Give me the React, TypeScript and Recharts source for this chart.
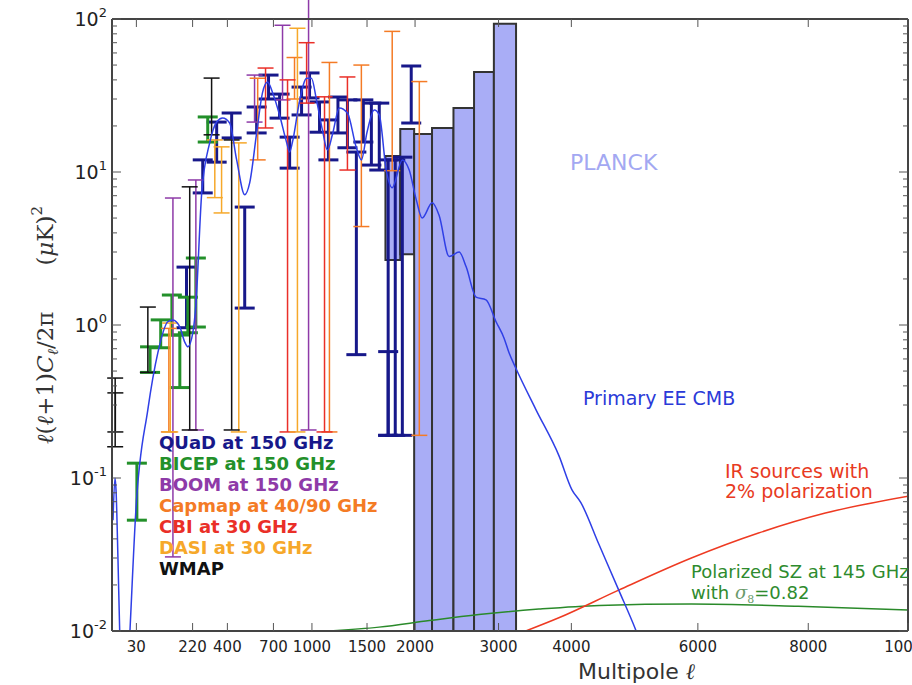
import React from "react";
import {
  ComposedChart,
  XAxis,
  YAxis,
  Line,
  Scatter,
  ErrorBar,
  ReferenceArea,
} from "recharts";

const W = 912;
const H = 685;
const POW = 0.6; // x axis is drawn in ell^0.6
const toU = (l: number) => Math.pow(l, POW);

const xTickLabels = [30, 220, 400, 700, 1000, 1500, 2000, 3000, 4000, 6000, 8000, 10000];
const yDecades = [-2, -1, 0, 1, 2];

// theory curve, [ell, l(l+1)C/2pi]
const primaryEE = [
  [0.15, 0.053], [0.9, 0.1], [1.5, 0.083], [2.9, 0.029], [4.6, 0.0087], [8, 0.003],
  [12, 0.003], [18, 0.01], [29, 0.062], [57, 0.28], [86, 0.66], [119, 1.05],
  [138, 1.08], [165, 0.97], [186, 0.77], [199, 0.72], [221, 0.89], [235, 1.35],
  [263, 7.3], [303, 15.5], [340, 21.2], [373, 22.5], [413, 20.9], [455, 12.0],
  [505, 7.1], [537, 8.5], [583, 18], [623, 33], [658, 38.7], [694, 33],
  [745, 23.6], [797, 15.7], [821, 13.5], [843, 15.7], [898, 28.7], [956, 41],
  [996, 41], [1038, 29.6], [1089, 18.8], [1133, 13.9], [1176, 17.5], [1239, 26.2],
  [1313, 24.3], [1397, 14.4], [1445, 12.0], [1500, 18.2], [1572, 25.4], [1622, 23.6],
  [1693, 10.3], [1755, 7.9], [1862, 12.0], [1936, 10.3], [2013, 6.6], [2079, 5.0],
  [2192, 6.3], [2272, 5.2], [2389, 2.8], [2508, 3.0], [2593, 2.4], [2715, 1.52],
  [2840, 1.46], [2968, 1.05], [3072, 0.82], [3136, 0.66], [3229, 0.52], [3499, 0.28],
  [3821, 0.14], [4007, 0.084], [4139, 0.069], [4406, 0.037], [4711, 0.0185],
  [4976, 0.0102], [5103, 0.0075],
];

const irSources = [
  [3360, 0.01], [3820, 0.0122], [4710, 0.0185], [5890, 0.03], [7070, 0.0437],
  [8330, 0.059], [10000, 0.076],
];

const polarizedSZ = [
  [1150, 0.01], [1620, 0.0106], [2160, 0.0117], [2750, 0.0128], [3540, 0.0139],
  [4410, 0.0147], [5890, 0.015], [7810, 0.0145], [10000, 0.0137],
];

// PLANCK forecast bins [ellMin, ellMax, low, high]
const planck = [
  [1685, 1840, 2.66, 12.7],
  [1840, 1990, 2.9, 19.1],
  [1990, 2190, 0.01, 17.7],
  [2190, 2440, 0.01, 19.4],
  [2440, 2690, 0.01, 26.2],
  [2690, 2940, 0.01, 45],
  [2940, 3230, 0.01, 93],
];

// band powers [ell, low, high]
const quad = [
  [193, 0.96, 2.39], [268, 7.3, 12.0], [340, 11.6, 21.2], [425, 16.7, 24.3],
  [505, 1.29, 5.9], [583, 18.0, 26.6], [665, 30, 43], [745, 22.5, 32.3],
  [821, 10.6, 16.9], [915, 23.6, 35.9], [980, 30.5, 44.4], [1064, 18.2, 28.7],
  [1141, 12.0, 21.9], [1226, 18.0, 30.9], [1313, 14.4, 29.6], [1397, 0.64, 13.5],
  [1464, 15.7, 29.6], [1543, 11.1, 28.2], [1622, 10.3, 28.2], [1713, 0.19, 12.0],
  [1713, 0.19, 0.67], [1787, 0.19, 12.0], [1862, 0.19, 12.5], [1958, 20.9, 49.3],
];
const bicep = [
  [31, 0.053, 0.125], [63, 0.49, 0.72], [95, 0.71, 1.08], [134, 0.86, 1.57],
  [165, 0.39, 0.86], [199, 0.89, 1.52], [235, 0.97, 2.74], [293, 15.7, 22.9],
];
const boom = [
  [138, 0.0305, 6.76], [235, 0.206, 8.87], [569, 21.2, 43], [767, 29.6, 91],
  [972, 0.206, 150],
];
const capmap = [
  [123, 0.2, 0.95], [590, 12, 41], [859, 30, 56], [1150, 0.2, 52], [1445, 4.4, 50],
  [1755, 10.2, 83], [2047, 0.19, 39],
];
const cbi = [
  [644, 19.4, 47.8], [805, 0.2, 40], [956, 28.2, 70], [1107, 0.2, 31],
  [1313, 10.3, 41.8],
];
const dasi = [
  [128, 0.2, 1.03], [330, 6.8, 16.2], [367, 5.4, 14.6], [468, 0.2, 15.5],
  [882, 0.2, 87],
];
const wmap = [
  [1, 0.16, 0.45], [1.1, 0.2, 0.36], [57, 0.49, 1.31], [207, 0.206, 8.0],
  [313, 17.5, 41.1], [425, 0.206, 16.2],
];

const experiments = [
  { name: "QUaD at 150 GHz", color: "#17188a", width: 3, cap: 10, data: quad },
  { name: "BICEP at 150 GHz", color: "#23902a", width: 3, cap: 10, data: bicep },
  { name: "BOOM at 150 GHz", color: "#8e3aa8", width: 1.5, cap: 8, data: boom },
  { name: "Capmap at 40/90 GHz", color: "#f47b25", width: 1.5, cap: 8, data: capmap },
  { name: "CBI at 30 GHz", color: "#ea2f28", width: 1.5, cap: 8, data: cbi },
  { name: "DASI at 30 GHz", color: "#f6a82a", width: 1.5, cap: 8, data: dasi },
  { name: "WMAP", color: "#111111", width: 1.5, cap: 8, data: wmap },
];

const yTicks = yDecades.flatMap((d) =>
  (d === 2 ? [1] : [1, 2, 3, 4, 5, 6, 7, 8, 9]).map((k) => k * Math.pow(10, d))
);
const isMajor = (v: number) => Math.abs(Math.log10(v) - Math.round(Math.log10(v))) < 1e-6;

const curveRows = (d: number[][]) => d.map(([l, v]) => ({ u: toU(l), v }));
const barRows = (d: number[][]) =>
  d.map(([l, lo, hi]) => ({ u: toU(l), y: lo, err: [0, hi - lo] }));

const noMark = () => <g />;

const LeftTick = ({ x, y, payload }: any) => {
  const major = isMajor(payload.value);
  return (
    <g>
      <line x1={x} x2={x + (major ? 9 : 5)} y1={y} y2={y} stroke="#555" />
      {major && (
        <text x={x - 5} y={y + 7} textAnchor="end" fontFamily="DejaVu Sans" fontSize={19} fill="#222">
          10
          <tspan dy={-9} fontSize={13}>
            {Math.round(Math.log10(payload.value))}
          </tspan>
        </text>
      )}
    </g>
  );
};

const RightTick = ({ x, y, payload }: any) => (
  <line x1={x} x2={x - (isMajor(payload.value) ? 9 : 5)} y1={y} y2={y} stroke="#555" />
);

const BottomTick = ({ x, y, index }: any) => (
  <g>
    <line x1={x} x2={x} y1={y} y2={y - 8} stroke="#555" />
    <text x={x} y={y + 21} textAnchor="middle" fontFamily="DejaVu Sans" fontSize={15} fill="#222">
      {xTickLabels[index]}
    </text>
  </g>
);

const TopTick = ({ x, y }: any) => <line x1={x} x2={x} y1={y} y2={y + 8} stroke="#555" />;

const axisLine = { stroke: "#444", strokeWidth: 2 };
const xDomain = [0, toU(10000)];

export default function App() {
  return (
    <div style={{ position: "absolute", left: 0, top: 0, width: W, height: H, overflow: "hidden", background: "#fff" }}>
      <ComposedChart width={W} height={H} margin={{ top: 18, right: 3, bottom: 53, left: 111 }}>
        <XAxis
          dataKey="u"
          type="number"
          domain={xDomain}
          allowDataOverflow
          ticks={xTickLabels.map(toU)}
          interval={0}
          height={1}
          tickSize={0}
          tickMargin={0}
          tickLine={false}
          axisLine={axisLine}
          tick={<BottomTick />}
        />
        <XAxis
          xAxisId="top"
          orientation="top"
          dataKey="u"
          type="number"
          domain={xDomain}
          allowDataOverflow
          ticks={xTickLabels.map(toU)}
          interval={0}
          height={1}
          tickSize={0}
          tickMargin={0}
          tickLine={false}
          axisLine={axisLine}
          tick={<TopTick />}
        />
        <YAxis
          type="number"
          scale="log"
          domain={[0.01, 100]}
          allowDataOverflow
          ticks={yTicks}
          interval={0}
          width={1}
          tickSize={0}
          tickMargin={0}
          tickLine={false}
          axisLine={axisLine}
          tick={<LeftTick />}
        />
        <YAxis
          yAxisId="right"
          orientation="right"
          type="number"
          scale="log"
          domain={[0.01, 100]}
          allowDataOverflow
          ticks={yTicks}
          interval={0}
          width={1}
          tickSize={0}
          tickMargin={0}
          tickLine={false}
          axisLine={axisLine}
          tick={<RightTick />}
        />
        {planck.map(([l1, l2, lo, hi], i) => (
          <ReferenceArea
            key={"p" + i}
            x1={toU(l1)}
            x2={toU(l2)}
            y1={lo}
            y2={hi}
            fill="#a9adf6"
            fillOpacity={1}
            stroke="#333"
            strokeWidth={2}
            ifOverflow="visible"
          />
        ))}
        <Line
          data={curveRows(polarizedSZ)}
          dataKey="v"
          type="monotone"
          dot={false}
          stroke="#2a8a2a"
          strokeWidth={1.5}
          isAnimationActive={false}
        />
        <Line
          data={curveRows(irSources)}
          dataKey="v"
          type="monotone"
          dot={false}
          stroke="#ee3a22"
          strokeWidth={1.5}
          isAnimationActive={false}
        />
        {experiments.map((e) => (
          <Scatter
            key={e.name}
            name={e.name}
            data={barRows(e.data)}
            dataKey="y"
            shape={noMark}
            isAnimationActive={false}
          >
            <ErrorBar dataKey="err" direction="y" width={e.cap} stroke={e.color} strokeWidth={e.width} />
          </Scatter>
        ))}
        <Line
          data={curveRows(primaryEE)}
          dataKey="v"
          type="monotone"
          dot={false}
          stroke="#2f3fe6"
          strokeWidth={1.5}
          isAnimationActive={false}
        />
      </ComposedChart>
      <svg width={W} height={H} style={{ position: "absolute", left: 0, top: 0, pointerEvents: "none" }}>
        <text
          x={53}
          y={325}
          transform="rotate(-90 53 325)"
          textAnchor="middle"
          fontFamily="DejaVu Serif"
          fontSize={23}
          fill="#333"
        >
          <tspan fontStyle="italic">ℓ</tspan>(<tspan fontStyle="italic">ℓ</tspan>+1)
          <tspan fontStyle="italic">C</tspan>
          <tspan fontStyle="italic" fontSize={15} dy={5}>ℓ</tspan>
          <tspan dy={-5}>/2π{"\u2003\u2003"}(</tspan>
          <tspan fontStyle="italic">μ</tspan>K)
          <tspan fontSize={15} dy={-11}>2</tspan>
        </text>
        <text x={578} y={679} fontFamily="DejaVu Sans" fontSize={22} fill="#333">
          Multipole <tspan fontFamily="DejaVu Serif" fontStyle="italic">ℓ</tspan>
        </text>
        <text x={570} y={170} fontFamily="DejaVu Sans" fontSize={22} fill="#a3a8f2">PLANCK</text>
        <text x={583} y={405} fontFamily="DejaVu Sans" fontSize={19} fill="#2b3ad8">Primary EE CMB</text>
        <text x={725} y={478} fontFamily="DejaVu Sans" fontSize={19} fill="#e83a22">IR sources with</text>
        <text x={725} y={498} fontFamily="DejaVu Sans" fontSize={19} fill="#e83a22">2% polarization</text>
        <text x={691} y={578} fontFamily="DejaVu Sans" fontSize={18} fill="#2e8b2e">Polarized SZ at 145 GHz</text>
        <text x={691} y={599} fontFamily="DejaVu Sans" fontSize={18} fill="#2e8b2e">
          with <tspan fontFamily="DejaVu Serif" fontStyle="italic" fill="#6a9a6a">σ</tspan>
          <tspan fontFamily="DejaVu Serif" fontSize={11} dy={4} fill="#6a9a6a">8</tspan>
          <tspan dy={-4}>=0.82</tspan>
        </text>
        {experiments.map((e, i) => (
          <text
            key={e.name}
            x={159}
            y={449 + i * 21}
            fontFamily="DejaVu Sans"
            fontWeight="bold"
            fontSize={18}
            fill={e.color}
          >
            {e.name}
          </text>
        ))}
      </svg>
    </div>
  );
}
